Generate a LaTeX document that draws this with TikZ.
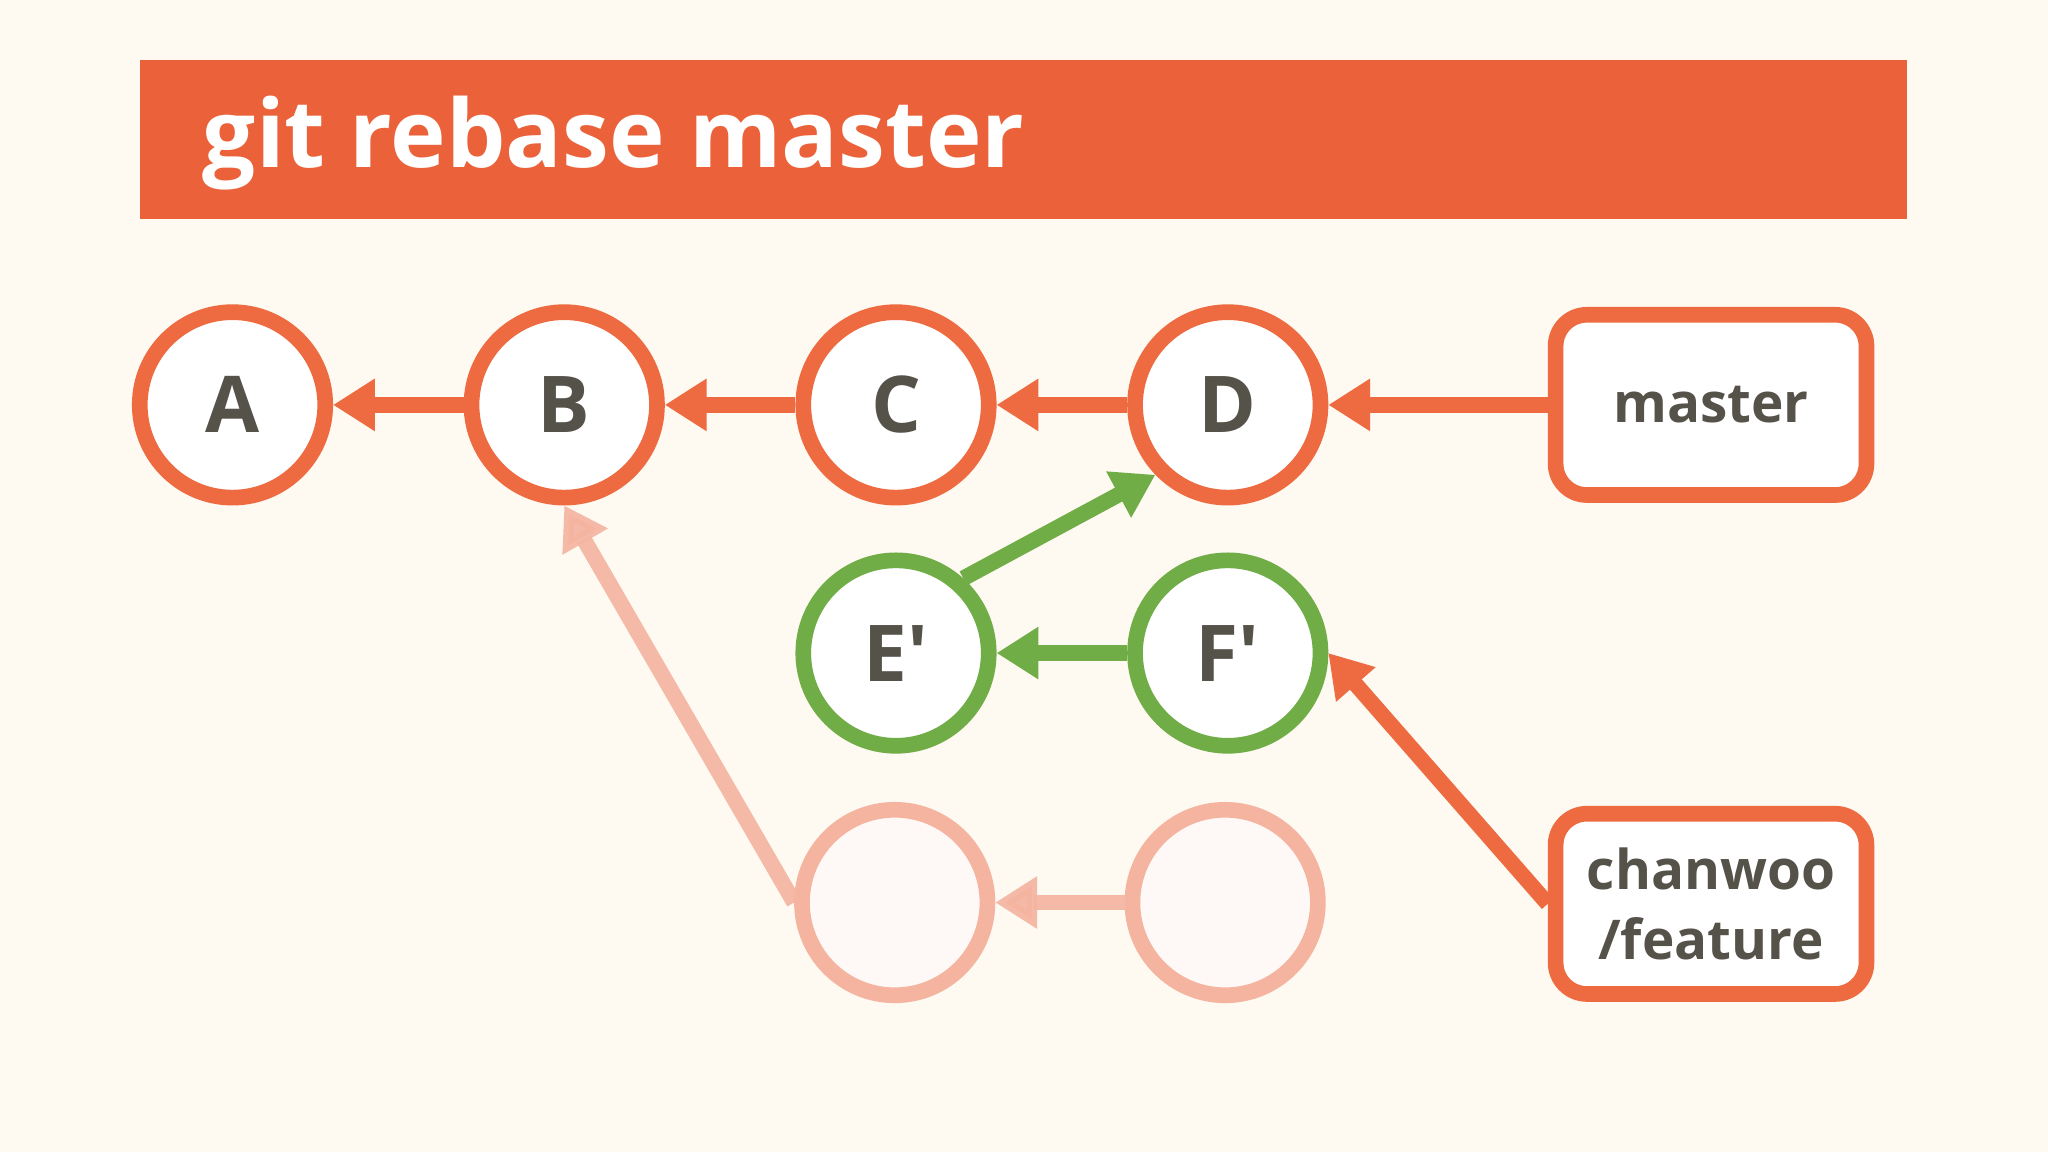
\documentclass[tikz,border=0pt]{standalone}
\usepackage{fontspec}
\setmainfont{Open Sans}
\usetikzlibrary{arrows.meta}
\definecolor{bg}{HTML}{FEF9F1}
\definecolor{org}{HTML}{EE6A40}
\definecolor{bar}{HTML}{EB623A}
\definecolor{grn}{HTML}{70AD47}
\definecolor{pale}{HTML}{F5B49F}
\definecolor{txt}{HTML}{55524A}
\begin{document}
\begin{tikzpicture}[x=0.5pt,y=-0.5pt,
  commit/.style={circle,draw=org,fill=white,line width=6pt,minimum size=71pt,inner sep=0pt,
     font=\fontsize{30}{30}\selectfont\bfseries,text=txt},
  newc/.style={commit,draw=grn},
  ghost/.style={commit,draw=pale,fill=white!92!pale},
  branch/.style={rectangle,rounded corners=12pt,draw=org,fill=white,line width=6pt,
     minimum width=119pt,minimum height=69pt,inner sep=0pt,align=center,
     font=\fontsize{21}{27}\selectfont\bfseries,text=txt},
  arr/.style={draw=org,line width=6pt,-{Triangle[length=16pt,width=19pt]}},
  garr/.style={arr,draw=grn,fill=grn},
  parr/.style={arr,draw=pale,fill=pale,opacity=0.9}]
\fill[bg] (0,0) rectangle (1568,882);
\useasboundingbox (0,0) rectangle (1568,882);
\fill[bar] (107,46) rectangle (1460,168);
\node[anchor=base west,text=white,font=\fontsize{36}{36}\selectfont\bfseries,inner sep=0pt] (title) at (155,128) {git rebase master};
\node[commit] (A) at (178,310) {A};
\node[commit] (B) at (432,310) {B};
\node[commit] (C) at (686,310) {C};
\node[commit] (D) at (940,310) {D};
\node[ghost] (G1) at (685,691) {};
\node[ghost] (G2) at (938,691) {};
\node[newc] (Ep) at (686,500) {E′};
\node[newc] (Fp) at (940,500) {F′};
\node[branch] (master) at (1310,310) {master};
\node[branch] (feat) at (1310,692) {chanwoo\\/feature};
\draw[arr] (master.west) -- (D);
\draw[arr] (D) -- (C);
\draw[arr] (C) -- (B);
\draw[arr] (B) -- (A);
\draw[garr] (Ep.48) -- (D.224);
\draw[garr] (Fp) -- (Ep);
\draw[arr,fill=org] (feat.west) -- (Fp.east);
\draw[parr] (G2) -- (G1);
\draw[parr] (G1.west) -- (B.south);
\end{tikzpicture}
\end{document}
